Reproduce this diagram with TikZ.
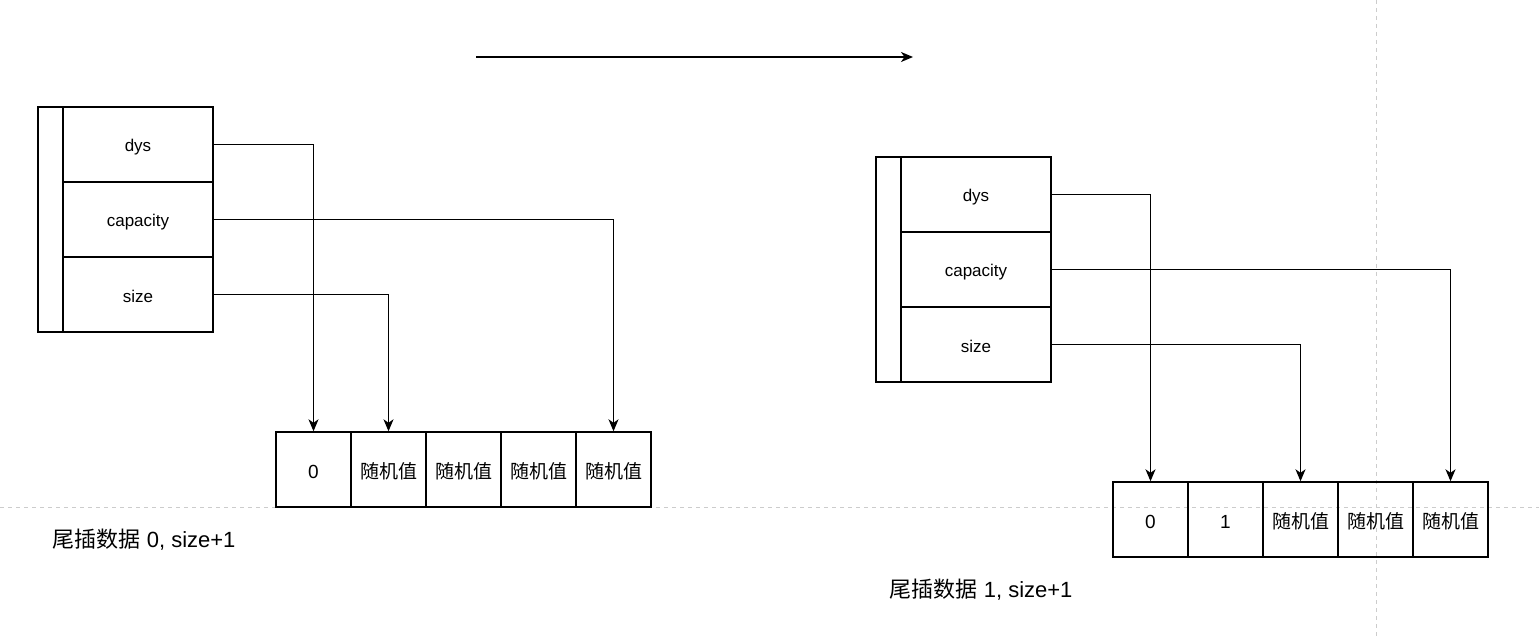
\documentclass[tikz,border=0pt]{standalone}
\usepackage{fontspec}
\setmainfont{Liberation Sans}
\newfontfamily\cjk{Noto Sans CJK SC}
\usetikzlibrary{arrows.meta}
\begin{document}
\begin{tikzpicture}[x=1pt,y=-1pt,
  line width=1.4pt,
  field/.style={draw,minimum width=150pt,minimum height=75pt,inner sep=0pt,text height=15pt,text depth=0pt,font=\fontsize{17}{20}\selectfont},
  side/.style={draw,minimum width=25pt,minimum height=225pt,inner sep=0pt},
  cell/.style={draw,minimum width=75pt,minimum height=75pt,inner sep=0pt,text height=17pt,text depth=0pt,font=\fontsize{19}{22}\selectfont},
  lbl/.style={inner sep=0pt,font=\fontsize{22}{26}\selectfont},
  ptr/.style={-{Stealth[length=12pt,width=10pt,inset=3.5pt]},line width=1.3pt},
  guide/.style={draw=black!20,dashed,dash pattern=on 4pt off 4pt,line width=1pt}]
\useasboundingbox (0,0) rectangle (1539,636);
% page guides
\coordinate (gl) at (0,507);
\coordinate (gr) at (1539,507);
\coordinate (gt) at (1376,0);
\coordinate (gb) at (1376,636);
\draw[guide] (gl) -- (gr);
\draw[guide] (gt) -- (gb);
% top arrow
\coordinate (ta) at (476,57);
\coordinate (tb) at (913,57);
\draw[ptr] (ta) -- (tb);
% left struct
\node[side] (Ls) at (50.5,219.5) {};
\node[field] (Ld) at (138,144.5) {dys};
\node[field] (Lc) at (138,219.5) {capacity};
\node[field] (Lz) at (138,294.5) {size};
% left array
\node[cell] (La0) at (313.5,469.5) {0};
\node[cell] (La1) at (388.5,469.5) {\cjk 随机值};
\node[cell] (La2) at (463.5,469.5) {\cjk 随机值};
\node[cell] (La3) at (538.5,469.5) {\cjk 随机值};
\node[cell] (La4) at (613.5,469.5) {\cjk 随机值};
\draw[ptr] (Ld.east) -| (La0.north);
\draw[ptr] (Lc.east) -| (La4.north);
\draw[ptr] (Lz.east) -| (La1.north);
\node[lbl,anchor=west] (Lt) at (52,540) {{\cjk 尾插数据} 0, size+1};
% right struct
\node[side] (Rs) at (888.5,269.5) {};
\node[field] (Rd) at (976,194.5) {dys};
\node[field] (Rc) at (976,269.5) {capacity};
\node[field] (Rz) at (976,344.5) {size};
% right array
\node[cell] (Ra0) at (1150.5,519.5) {0};
\node[cell] (Ra1) at (1225.5,519.5) {1};
\node[cell] (Ra2) at (1300.5,519.5) {\cjk 随机值};
\node[cell] (Ra3) at (1375.5,519.5) {\cjk 随机值};
\node[cell] (Ra4) at (1450.5,519.5) {\cjk 随机值};
\draw[ptr] (Rd.east) -| (Ra0.north);
\draw[ptr] (Rc.east) -| (Ra4.north);
\draw[ptr] (Rz.east) -| (Ra2.north);
\node[lbl,anchor=west] (Rt) at (889,590) {{\cjk 尾插数据} 1, size+1};
\end{tikzpicture}
\end{document}
